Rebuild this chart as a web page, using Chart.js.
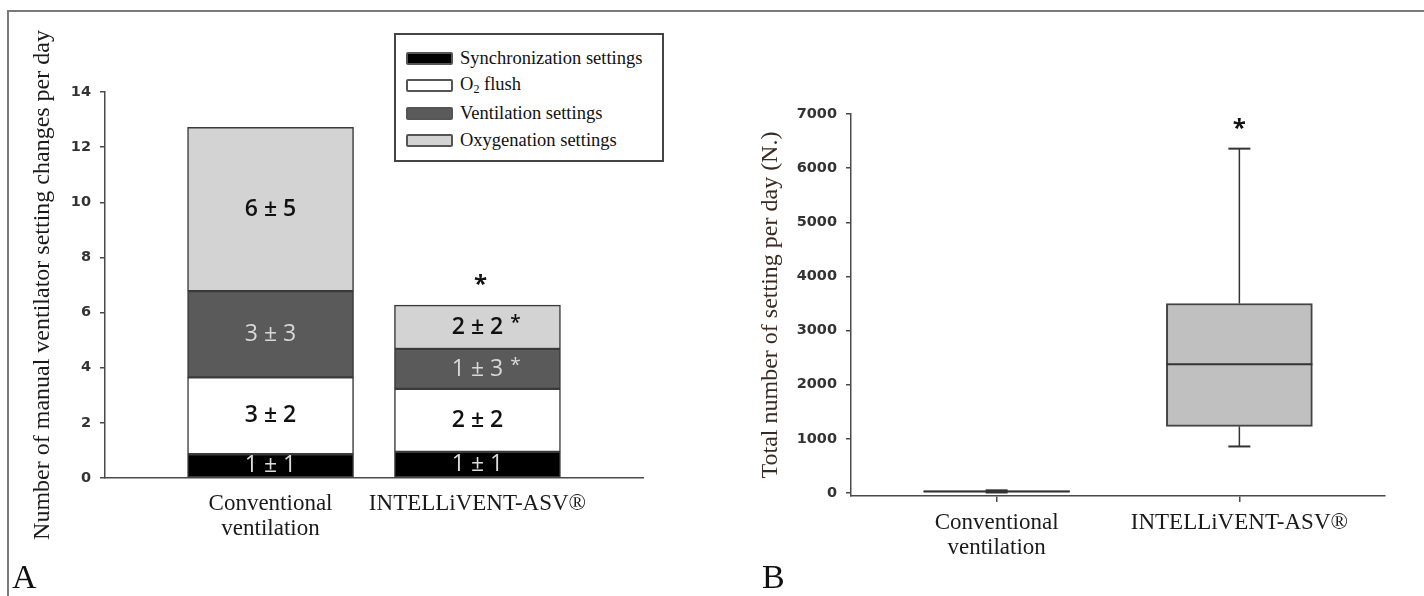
<!DOCTYPE html>
<html>
<head>
<meta charset="utf-8">
<script src="https://cdn.jsdelivr.net/npm/chart.js@4/dist/chart.umd.min.js"></script>
<style>
  body { margin: 0; width: 1424px; height: 596px; background: #fff; overflow: hidden; position: relative; }
  #frame { position: absolute; left: 7px; top: 10px; width: 1500px; height: 700px;
           border-top: 2px solid #7a7a7a; border-left: 2px solid #7a7a7a; }
  #wrapA { position: absolute; left: 0; top: 0; width: 700px; height: 596px; }
  #wrapB { position: absolute; left: 700px; top: 0; width: 724px; height: 596px; }
  #legendA { position: absolute; left: 394px; top: 33px; width: 266px; height: 125px;
             border: 2px solid #444; background: #fff; font-family: 'Liberation Serif', serif;
             font-size: 18.5px; color: #111; }
  #legendA .row { position: absolute; left: 10px; height: 20px; display: flex; align-items: center; white-space: nowrap; }
  #legendA .sw { width: 43px; height: 9px; border: 2px solid #555; border-radius: 2px; margin-right: 7px; }
  #legendA sub { font-size: 12px; vertical-align: -3px; }
  .panel { position: absolute; font-family: 'Liberation Serif', serif; font-size: 34px; color: #111; }
</style>
</head>
<body>
<div id="frame"></div>
<div id="wrapA"><canvas id="chartA" width="700" height="596"></canvas></div>
<div id="wrapB"><canvas id="chartB" width="724" height="596"></canvas></div>
<div id="legendA"></div>
<div class="panel" style="left:12px; top:558px;">A</div>
<div class="panel" style="left:762px; top:558px;">B</div>

<script>
// ═══════════════════════════════════════
//  DATA
// ═══════════════════════════════════════
const categories = [['Conventional', 'ventilation'], 'INTELLiVENT-ASV®'];
const catIndex   = [0, 1];

// panel A — manual setting changes per day, stacked bottom to top
const seriesNames = ['Synchronization settings', 'O₂ flush', 'Ventilation settings', 'Oxygenation settings'];
const syncValues  = [0.86, 0.95];
const o2Values    = [2.79, 2.28];
const ventValues  = [3.13, 1.45];
const oxyValues   = [5.94, 1.59];
const syncText    = ['1 ± 1', '1 ± 1'];
const o2Text      = ['3 ± 2', '2 ± 2'];
const ventText    = ['3 ± 3', '1 ± 3 *'];
const oxyText     = ['6 ± 5', '2 ± 2 *'];
const sigA        = ['', '*'];
const yTicksA     = [0, 2, 4, 6, 8, 10, 12, 14];
const yTitleA     = 'Number of manual ventilator setting changes per day';

// panel B — total number of settings per day (box plot)
const boxMin    = [10, 860];
const boxQ1     = [20, 1230];
const boxMedian = [30, 2380];
const boxQ3     = [40, 3500];
const boxMax    = [50, 6360];
const sigB      = ['', '*'];
const yTicksB   = [0, 1000, 2000, 3000, 4000, 5000, 6000, 7000];
const yTitleB   = 'Total number of setting per day (N.)';

// ── STYLE ──
const SERIF = "'Liberation Serif', 'Times New Roman', serif";
const SANS  = "'Open Sans', 'DejaVu Sans', sans-serif";
const TICK_FONT = { family: "'DejaVu Sans', sans-serif", size: 14.5, weight: 'bold' };
const AXIS  = '#4a4a4a';
const FILLS = ['#000000', '#ffffff', '#5a5a5a', '#d3d3d3'];
const TEXT_COLORS = ['#dcdcdc', '#111', '#d8d8d8', '#111'];
const TEXT_WEIGHT = ['400', '600', '400', '600'];

Chart.defaults.font.family = "'Liberation Sans', Arial, sans-serif";
Chart.defaults.animation = false;
Chart.defaults.plugins.legend.display = false;
Chart.defaults.plugins.tooltip.enabled = false;

const toPoints = vals => catIndex.map((x, i) => ({ x, y: vals[i] }));

// ── PLUGINS ──
const segmentLabels = {
  id: 'segmentLabels',
  afterDatasetsDraw(chart) {
    const ctx = chart.ctx;
    chart.data.datasets.forEach((ds, di) => {
      if (!ds.segText) return;
      chart.getDatasetMeta(di).data.forEach((bar, i) => {
        const { x, y, base } = bar.getProps(['x', 'y', 'base'], true);
        const [main, star] = ds.segText[i].split(' *');
        ctx.save();
        ctx.font = ds.segWeight + ' 23px ' + SANS;
        ctx.fillStyle = ds.segColor;
        ctx.textAlign = 'center';
        ctx.textBaseline = 'middle';
        const cy = (y + base) / 2;
        ctx.fillText(main, x, cy);
        if (star !== undefined) {
          const w = ctx.measureText(main).width;
          ctx.textAlign = 'left';
          ctx.font = ds.segWeight + ' 19px ' + SANS;
          ctx.fillText('*', x + w / 2 + 7, cy - 3);
        }
        ctx.restore();
      });
    });
    // significance mark over the stack total
    const top = chart.getDatasetMeta(chart.data.datasets.length - 1).data;
    ctx.save();
    ctx.font = 'bold 24px ' + SANS;
    ctx.fillStyle = '#111';
    ctx.textAlign = 'center';
    ctx.textBaseline = 'middle';
    top.forEach((bar, i) => {
      if (sigA[i]) ctx.fillText(sigA[i], bar.x + 3, bar.y - 20);
    });
    ctx.restore();
  }
};

const boxWhiskers = {
  id: 'boxWhiskers',
  afterDatasetsDraw(chart) {
    const { ctx, scales: { x, y } } = chart;
    const half = chart.data.datasets[0].barThickness / 2;
    ctx.save();
    ctx.strokeStyle = '#333';
    catIndex.forEach(i => {
      const cx = x.getPixelForValue(i);
      const line = (x1, y1, x2, y2, w) => {
        ctx.lineWidth = w;
        ctx.beginPath(); ctx.moveTo(x1, y1); ctx.lineTo(x2, y2); ctx.stroke();
      };
      line(cx - half, y.getPixelForValue(boxMedian[i]), cx + half, y.getPixelForValue(boxMedian[i]), 2);
      line(cx, y.getPixelForValue(boxQ3[i]), cx, y.getPixelForValue(boxMax[i]), 1.5);
      line(cx, y.getPixelForValue(boxQ1[i]), cx, y.getPixelForValue(boxMin[i]), 1.5);
      line(cx - 11, y.getPixelForValue(boxMax[i]), cx + 11, y.getPixelForValue(boxMax[i]), 2);
      line(cx - 11, y.getPixelForValue(boxMin[i]), cx + 11, y.getPixelForValue(boxMin[i]), 2);
      if (sigB[i]) {
        ctx.font = 'bold 24px ' + SANS;
        ctx.fillStyle = '#111';
        ctx.textAlign = 'center';
        ctx.textBaseline = 'middle';
        ctx.fillText(sigB[i], cx, y.getPixelForValue(boxMax[i]) - 19);
      }
    });
    ctx.restore();
  }
};

// ── PANEL A: STACKED BARS ──
const stackValues = [syncValues, o2Values, ventValues, oxyValues];
const stackTexts  = [syncText, o2Text, ventText, oxyText];

new Chart(document.getElementById('chartA'), {
  type: 'bar',
  data: {
    datasets: seriesNames.map((name, k) => ({
      label: name,
      data: toPoints(stackValues[k]),
      backgroundColor: FILLS[k],
      borderColor: '#3a3a3a',
      borderWidth: 1.5,
      borderSkipped: false,
      barThickness: 166,
      segText: stackTexts[k],
      segColor: TEXT_COLORS[k],
      segWeight: TEXT_WEIGHT[k],
    }))
  },
  options: {
    responsive: false,
    layout: { padding: { top: 92, right: 57, left: 0, bottom: 0 } },
    scales: {
      x: {
        type: 'linear', min: -0.8, max: 1.8, stacked: true, offset: false,
        afterBuildTicks: s => { s.ticks = catIndex.map(v => ({ value: v })); },
        afterFit: s => { s.height = 118; },
        grid: { display: true, offset: false, drawOnChartArea: false, drawTicks: false },
        border: { display: true, color: AXIS, width: 1.5 },
        ticks: {
          callback: v => categories[v],
          autoSkip: false, maxRotation: 0, color: '#1a1a1a', padding: 13,
          font: { family: SERIF, size: 23, lineHeight: 1.1 },
        },
      },
      y: {
        min: 0, max: 14, stacked: true,
        afterBuildTicks: s => { s.ticks = yTicksA.map(v => ({ value: v })); },
        afterFit: s => { s.width = 105; },
        grid: { display: true, drawOnChartArea: false, drawTicks: true, tickLength: 5, color: AXIS, lineWidth: 1.5 },
        border: { display: true, color: AXIS, width: 1.5 },
        ticks: { callback: v => String(v), color: '#333', padding: 9, font: TICK_FONT },
        title: {
          display: true, text: yTitleA, color: '#1a1a1a',
          font: { family: SERIF, size: 24 }, padding: { top: 28, bottom: 0 },
        },
      },
    },
  },
  plugins: [segmentLabels],
});

// ── PANEL B: BOX PLOT ──
new Chart(document.getElementById('chartB'), {
  type: 'bar',
  data: {
    datasets: [{
      data: catIndex.map((x, i) => ({ x, y: [boxQ1[i], boxQ3[i]] })),
      backgroundColor: '#c0c0c0',
      borderColor: '#444',
      borderWidth: 2,
      borderSkipped: false,
      barThickness: 146,
    }]
  },
  options: {
    responsive: false,
    layout: { padding: { top: 114, right: 39, left: 0, bottom: 0 } },
    scales: {
      x: {
        type: 'linear', min: -0.6, max: 1.6, offset: false,
        afterBuildTicks: s => { s.ticks = catIndex.map(v => ({ value: v })); },
        afterFit: s => { s.height = 100; },
        grid: { display: true, offset: false, drawOnChartArea: false, drawTicks: true, tickLength: 6, color: AXIS, lineWidth: 1.5 },
        border: { display: true, color: AXIS, width: 1.5 },
        ticks: {
          callback: v => categories[v],
          autoSkip: false, maxRotation: 0, color: '#1a1a1a', padding: 8,
          font: { family: SERIF, size: 23, lineHeight: 1.1 },
        },
      },
      y: {
        min: -55, max: 7000,
        afterBuildTicks: s => { s.ticks = yTicksB.map(v => ({ value: v })); },
        afterFit: s => { s.width = 151; },
        grid: { display: true, drawOnChartArea: false, drawTicks: true, tickLength: 5, color: AXIS, lineWidth: 1.5 },
        border: { display: true, color: AXIS, width: 1.5 },
        ticks: { callback: v => String(v), color: '#333', padding: 9, font: TICK_FONT },
        title: {
          display: true, text: yTitleB, color: '#3a2a22',
          font: { family: SERIF, size: 24 }, padding: { top: 56, bottom: 0 },
        },
      },
    },
  },
  plugins: [boxWhiskers],
});

// ── LEGEND (panel A) ──
const legend = document.getElementById('legendA');
seriesNames.forEach((name, k) => {
  const row = document.createElement('div');
  row.className = 'row';
  row.style.top = (13 + k * 27.5) + 'px';
  const sw = document.createElement('div');
  sw.className = 'sw';
  sw.style.background = FILLS[k];
  const label = document.createElement('span');
  label.innerHTML = name.replace('₂', '<sub>2</sub>');
  row.appendChild(sw);
  row.appendChild(label);
  legend.appendChild(row);
});
</script>
</body>
</html>
